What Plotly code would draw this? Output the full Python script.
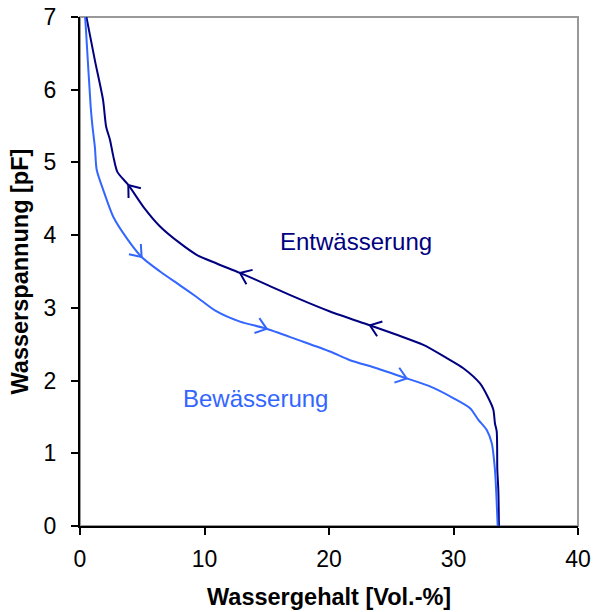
import math
import plotly.graph_objects as go

# ---- data ----
# Entwässerung (drying), ordered from saturation towards dry
ENT_X = [33.65, 33.6, 33.52, 33.47, 33.33, 33.2, 32.8, 32.13, 30.79, 29.45, 27.58,
         25.44, 23.29, 20.08, 17.5, 15.13, 12.85, 10.98, 9.37, 8.03, 6.43, 5.09,
         3.88, 3.0, 2.68, 2.41, 2.1, 1.85, 1.2, 0.48]
ENT_Y = [0.0, 0.5, 0.77, 1.3, 1.41, 1.6, 1.76, 1.96, 2.17, 2.31, 2.49,
         2.63, 2.76, 2.95, 3.13, 3.31, 3.48, 3.61, 3.73, 3.89, 4.12, 4.39,
         4.69, 4.87, 5.08, 5.31, 5.49, 5.86, 6.4, 7.03]
# Bewässerung (wetting), ordered from dry towards saturation
BEW_X = [0.4, 0.48, 0.86, 1.0, 1.2, 1.34, 1.87, 2.68, 3.75, 4.95, 6.43, 8.03,
         9.37, 10.98, 12.85, 14.86, 17.5, 20.08, 21.69, 23.83, 26.24, 28.11,
         29.98, 31.33, 32.0, 32.67, 33.07, 33.33, 33.45, 33.55]
BEW_Y = [7.03, 6.82, 5.76, 5.5, 5.2, 4.9, 4.62, 4.25, 3.96, 3.70, 3.50, 3.31,
         3.15, 2.95, 2.81, 2.72, 2.56, 2.40, 2.28, 2.17, 2.03, 1.92,
         1.76, 1.62, 1.46, 1.32, 1.14, 0.77, 0.4, 0.0]
# arrow positions (water content) along each curve
ENT_ARROWS = [3.88, 12.85, 23.29]
BEW_ARROWS = [4.95, 15.0, 26.24]
X_TICKS = [0, 10, 20, 30, 40]
Y_TICKS = [0, 1, 2, 3, 4, 5, 6, 7]

DARK = "#000080"
LIGHT = "#3366FF"

W, H = 593, 612
ML, MR, MT, MB = 80, 15, 17, 86
PW, PH = W - ML - MR, H - MT - MB
XR, YR = (0, 40), (0, 7)
SX = PW / (XR[1] - XR[0])
SY = PH / (YR[1] - YR[0])


def chevron(xs, ys, xa):
    # locate segment containing xa, derive the travel direction in pixels
    for i in range(len(xs) - 1):
        x0, x1 = xs[i], xs[i + 1]
        if min(x0, x1) <= xa <= max(x0, x1) and x0 != x1:
            t = (xa - x0) / (x1 - x0)
            ya = ys[i] + t * (ys[i + 1] - ys[i])
            j0, j1 = max(i - 1, 0), min(i + 2, len(xs) - 1)
            dx = (xs[j1] - xs[j0]) * SX
            dy = -(ys[j1] - ys[j0]) * SY
            break
    n = math.hypot(dx, dy)
    bx, by = -dx / n, -dy / n
    L = 13.0
    pts = []
    for a in (math.radians(37), -math.radians(37)):
        rx = bx * math.cos(a) - by * math.sin(a)
        ry = bx * math.sin(a) + by * math.cos(a)
        pts.append((xa + rx * L / SX, ya - ry * L / SY))
    return [pts[0][0], xa, pts[1][0]], [pts[0][1], ya, pts[1][1]]


fig = go.Figure()
fig.add_trace(go.Scatter(x=ENT_X, y=ENT_Y, mode="lines",
                         line=dict(color=DARK, width=2, shape="spline",
                                   smoothing=0.7), hoverinfo="skip"))
fig.add_trace(go.Scatter(x=BEW_X, y=BEW_Y, mode="lines",
                         line=dict(color=LIGHT, width=2, shape="spline",
                                   smoothing=0.7), hoverinfo="skip"))
for xa in ENT_ARROWS:
    cx, cy = chevron(ENT_X, ENT_Y, xa)
    fig.add_trace(go.Scatter(x=cx, y=cy, mode="lines",
                             line=dict(color=DARK, width=2), hoverinfo="skip"))
for xa in BEW_ARROWS:
    cx, cy = chevron(BEW_X, BEW_Y, xa)
    fig.add_trace(go.Scatter(x=cx, y=cy, mode="lines",
                             line=dict(color=LIGHT, width=2), hoverinfo="skip"))

FONT = "Liberation Sans, Arial, sans-serif"
TICKSIZE = 23
fig.update_layout(
    width=W, height=H,
    margin=dict(l=ML, r=MR, t=MT, b=MB, autoexpand=False),
    plot_bgcolor="white", paper_bgcolor="white",
    showlegend=False,
    font=dict(family=FONT, size=TICKSIZE, color="black"),
    xaxis=dict(range=XR, tickvals=X_TICKS, ticks="outside", ticklen=7,
               tickcolor="black", tickwidth=2, showline=True, linecolor="black",
               linewidth=2, showgrid=False, zeroline=False, automargin=False,
               ticklabelstandoff=4, tickfont=dict(size=TICKSIZE)),
    yaxis=dict(range=YR, tickvals=Y_TICKS, ticks="outside", ticklen=7,
               tickcolor="black", tickwidth=2, showline=True, linecolor="black",
               linewidth=2, showgrid=False, zeroline=False, automargin=False,
               ticklabelstandoff=10, tickfont=dict(size=TICKSIZE)),
    shapes=[dict(type="rect", xref="paper", yref="paper", x0=0, y0=0, x1=1, y1=1,
                 line=dict(color="#999999", width=2), layer="below")],
    annotations=[
        dict(text="<b>Wassergehalt [Vol.-%]</b>", xref="paper", yref="paper",
             x=0.5, y=0, yshift=-71, showarrow=False, xanchor="center",
             yanchor="middle", font=dict(size=23.5)),
        dict(text="<b>Wasserspannung [pF]</b>", xref="paper", yref="paper",
             x=0, y=0.5, xshift=-61, showarrow=False, textangle=-90,
             xanchor="center", yanchor="middle", font=dict(size=23.5)),
        dict(text="Entwässerung", x=22.2, y=3.91, showarrow=False,
             font=dict(size=24, color=DARK)),
        dict(text="Bewässerung", x=14.1, y=1.76, showarrow=False,
             font=dict(size=24, color=LIGHT)),
    ],
)
fig.write_html("out.html")
